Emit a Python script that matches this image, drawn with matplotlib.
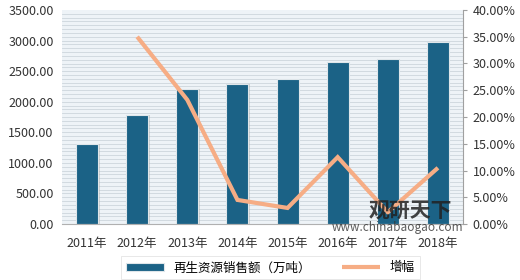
import matplotlib.pyplot as plt
import numpy as np

plt.rcParams['font.family'] = ['Noto Sans CJK SC', 'DejaVu Sans']

years = ['2011年', '2012年', '2013年', '2014年', '2015年', '2016年', '2017年', '2018年']
sales = [1310, 1780, 2205, 2290, 2370, 2655, 2700, 2975]
growth_years = ['2012年', '2013年', '2014年', '2015年', '2016年', '2017年', '2018年']
growth = [35.0, 23.2, 4.5, 3.0, 12.5, 2.2, 10.5]

bar_color = '#1b6286'
line_color = '#f6ad85'

fig = plt.figure(figsize=(5.2, 2.8), dpi=100)
ax = fig.add_axes([62 / 520, 56 / 280, 401 / 520, 214 / 280])
ax2 = ax.twinx()

x = np.arange(len(years))
ax.set_facecolor('#eef3f7')
# striped background
for v in np.arange(0, 3500, 62.5):
    ax.axhline(v, color='#cdd6dc', lw=0.6, zorder=0)
ax.bar(x + 0.03, sales, width=0.44, color='#b0b0b0', alpha=0.5, zorder=1)
ax.bar(x, sales, width=0.44, color=bar_color, edgecolor='#dfe6ea', linewidth=0.8, zorder=2,
       label='再生资源销售额（万吨）')

gx = [years.index(y) for y in growth_years]
ax2.plot(gx, growth, color=line_color, lw=3, solid_capstyle='butt', solid_joinstyle='miter',
         label='增幅', zorder=3)

ax.set_xlim(-0.5, len(years) - 0.5)
ax.set_ylim(0, 3500)
ax2.set_ylim(0, 40)
ax.set_yticks(np.arange(0, 3501, 500))
ax.set_yticklabels(['%.2f' % v for v in np.arange(0, 3501, 500)])
ax2.set_yticks(np.arange(0, 41, 5))
ax2.set_yticklabels(['%.2f%%' % v for v in np.arange(0, 41, 5)])
ax.set_xticks(x)
ax.set_xticklabels(years)

for a in (ax, ax2):
    for s in ('top', 'left'):
        a.spines[s].set_visible(False)
ax.spines['right'].set_visible(False)
ax2.spines['bottom'].set_visible(False)
ax.spines['bottom'].set_color('#b0b0b0')
ax2.spines['right'].set_color('#a0a0a0')
ax.tick_params(axis='y', length=0, labelsize=9, colors='#333333', pad=6)
ax.tick_params(axis='x', length=0, labelsize=9, colors='#333333', pad=9)
ax2.tick_params(axis='y', length=3, color='#a0a0a0', labelsize=9, colors='#333333', pad=4)

# watermark
fig.text(0.79, 1 - 211 / 280, '观研天下', fontsize=15, fontweight='bold', color='#222222',
         alpha=0.85, ha='center', va='center')
fig.text(0.764, 1 - 228 / 280, 'www.chinabaogao.com', fontsize=8.5, color='#333333', alpha=0.8,
         ha='center', va='center')

h1, l1 = ax.get_legend_handles_labels()
h2, l2 = ax2.get_legend_handles_labels()
leg = fig.legend(h1 + h2, l1 + l2, loc='lower center', bbox_to_anchor=(0.52, -0.02), ncol=2,
                 fontsize=9, frameon=True, fancybox=False, shadow=False,
                 handlelength=3.0, columnspacing=2.5, edgecolor='#dddddd')
leg.get_frame().set_linewidth(0.6)

fig.savefig('out.png', dpi=100)
